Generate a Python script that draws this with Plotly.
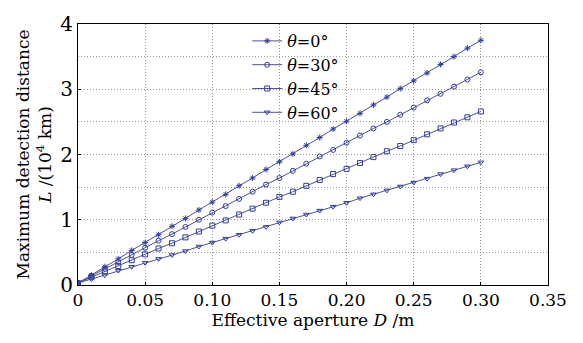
import plotly.graph_objects as go

D = [round(i * 0.01, 2) for i in range(31)]

L_theta0 = [0.03, 0.15, 0.28, 0.40, 0.53, 0.65, 0.77, 0.90, 1.02, 1.15, 1.27, 1.39, 1.52, 1.64, 1.77, 1.89,
            2.01, 2.14, 2.26, 2.39, 2.51, 2.63, 2.76, 2.88, 3.01, 3.13, 3.25, 3.38, 3.50, 3.63, 3.75]
L_theta30 = [0.03, 0.14, 0.25, 0.35, 0.46, 0.57, 0.68, 0.78, 0.89, 1.00, 1.11, 1.21, 1.32, 1.43, 1.54, 1.64,
             1.75, 1.86, 1.97, 2.07, 2.18, 2.29, 2.40, 2.50, 2.61, 2.72, 2.83, 2.93, 3.04, 3.15, 3.26]
L_theta45 = [0.03, 0.12, 0.21, 0.29, 0.38, 0.47, 0.56, 0.64, 0.73, 0.82, 0.91, 0.99, 1.08, 1.17, 1.26, 1.35,
             1.43, 1.52, 1.61, 1.70, 1.78, 1.87, 1.96, 2.05, 2.13, 2.22, 2.31, 2.40, 2.49, 2.57, 2.66]
L_theta60 = [0.03, 0.09, 0.15, 0.22, 0.28, 0.34, 0.40, 0.46, 0.52, 0.59, 0.65, 0.71, 0.77, 0.83, 0.89, 0.96,
             1.02, 1.08, 1.14, 1.20, 1.26, 1.33, 1.39, 1.45, 1.51, 1.57, 1.63, 1.70, 1.76, 1.82, 1.88]

series_names = ["<i>θ</i>=0°", "<i>θ</i>=30°", "<i>θ</i>=45°", "<i>θ</i>=60°"]
series_values = [L_theta0, L_theta30, L_theta45, L_theta60]
series_symbols = ["asterisk-open", "circle-open", "square-open", "triangle-down-open"]

x_tickvals = [0, 0.05, 0.10, 0.15, 0.20, 0.25, 0.30, 0.35]
x_ticktext = ["0", "0.05", "0.10", "0.15", "0.20", "0.25", "0.30", "0.35"]
y_tickvals = [0, 1, 2, 3, 4]
y_ticktext = ["0", "1", "2", "3", "4"]

line_color = "#4d5298"
marker_color = "#2f3f9e"
grid_color = "#9a9a9a"
font_family = "DejaVu Serif, Liberation Serif, serif"

fig = go.Figure()
for name, vals, sym in zip(series_names, series_values, series_symbols):
    fig.add_trace(go.Scatter(
        x=D, y=vals, name=name, mode="lines+markers",
        line=dict(color=line_color, width=1),
        marker=dict(symbol=sym, size=5, color=marker_color, line=dict(width=1, color=marker_color)),
    ))

fig.update_layout(
    width=583, height=343,
    margin=dict(l=78, r=35, t=13, b=58),
    paper_bgcolor="white", plot_bgcolor="white",
    font=dict(family=font_family, size=17, color="black"),
    showlegend=True,
    legend=dict(x=0.36, y=1.0, xanchor="left", yanchor="top",
                bgcolor="rgba(255,255,255,0)", borderwidth=0,
                font=dict(family=font_family, size=16),
                itemwidth=30, tracegroupgap=0),
)

fig.update_xaxes(
    range=[0, 0.35], tickvals=x_tickvals, ticktext=x_ticktext,
    showgrid=True, gridcolor=grid_color, griddash="1px,2px", gridwidth=1,
    showline=True, linecolor="black", linewidth=1, mirror=True,
    ticks="inside", ticklen=3, tickcolor="black",
    zeroline=False,
    tickfont=dict(size=17),
    title=dict(text="Effective aperture <i>D</i> /m", font=dict(size=17), standoff=2),
)
fig.update_yaxes(
    range=[0, 4], tickvals=y_tickvals, ticktext=y_ticktext,
    showgrid=True, gridcolor=grid_color, griddash="1px,2px", gridwidth=1,
    minor=dict(dtick=0.5, showgrid=True, gridcolor=grid_color, griddash="1px,2px", gridwidth=1),
    showline=True, linecolor="black", linewidth=1, mirror=True,
    ticks="inside", ticklen=3, tickcolor="black",
    zeroline=False,
    tickfont=dict(size=20),
    title=dict(text="Maximum detection distance<br><i>L</i> /(10<sup>4</sup> km)", font=dict(size=17), standoff=4),
)

fig.write_html("out.html")
